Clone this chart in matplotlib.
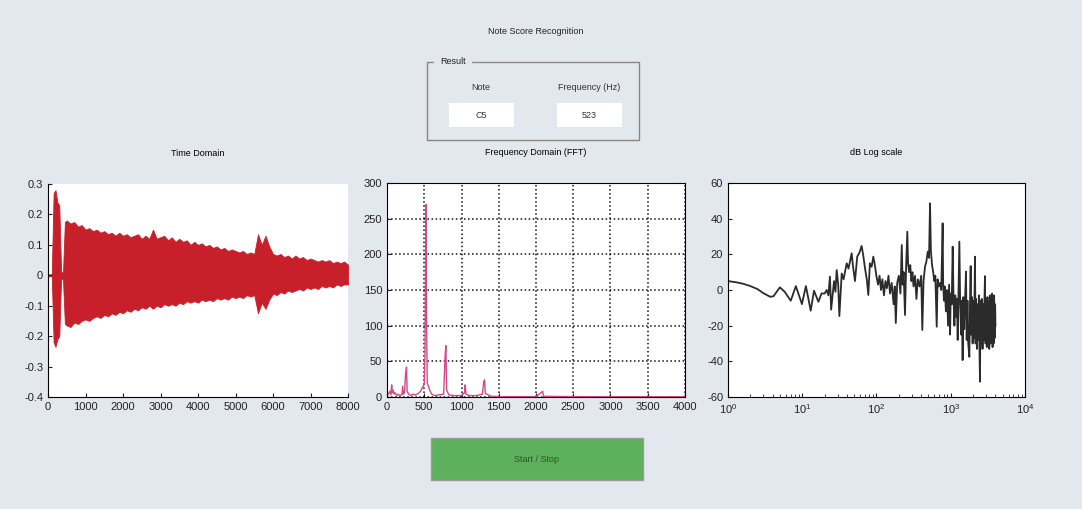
import matplotlib.pyplot as plt
import matplotlib.patches as mpatches
from matplotlib.ticker import FuncFormatter
import numpy as np

plt.rcParams['axes.unicode_minus'] = False
plt.rcParams['font.family'] = ['Liberation Sans', 'DejaVu Sans']

note_name = "C5"
note_freq = 523

# time domain: sample index with upper / lower envelope of the waveform
t = [0, 100, 150, 200, 250, 300, 350, 400, 450, 500, 600, 700, 800, 900,
     1000, 1100, 1200, 1300, 1400, 1500, 1600, 1700, 1800, 1900, 2000, 2100,
     2200, 2300, 2400, 2500, 2600, 2700, 2800, 2900, 3000, 3100, 3200, 3300,
     3400, 3500, 3600, 3700, 3800, 3900, 4000, 4100, 4200, 4300, 4400, 4500,
     4600, 4700, 4800, 4900, 5000, 5100, 5200, 5300, 5400, 5500, 5600, 5700,
     5800, 5900, 6000, 6100, 6200, 6300, 6400, 6500, 6600, 6700, 6800, 6900,
     7000, 7100, 7200, 7300, 7400, 7500, 7600, 7700, 7800, 7900, 8000]
upper = [0.003, 0.003, 0.27, 0.28, 0.24, 0.23, 0.01, 0.01, 0.175, 0.18, 0.17,
         0.175, 0.16, 0.165, 0.15, 0.155, 0.145, 0.15, 0.14, 0.145, 0.135,
         0.14, 0.13, 0.14, 0.13, 0.135, 0.125, 0.13, 0.135, 0.12, 0.13, 0.12,
         0.15, 0.12, 0.125, 0.13, 0.115, 0.125, 0.11, 0.12, 0.11, 0.115, 0.1,
         0.11, 0.1, 0.105, 0.095, 0.1, 0.09, 0.095, 0.085, 0.09, 0.08, 0.085,
         0.08, 0.075, 0.08, 0.07, 0.075, 0.07, 0.135, 0.1, 0.13, 0.095, 0.07,
         0.065, 0.07, 0.06, 0.065, 0.055, 0.065, 0.055, 0.06, 0.05, 0.055,
         0.05, 0.045, 0.05, 0.045, 0.05, 0.04, 0.045, 0.04, 0.045, 0.035]
lower = [-0.003, -0.003, -0.22, -0.235, -0.21, -0.2, -0.01, -0.015, -0.16,
         -0.165, -0.17, -0.155, -0.16, -0.15, -0.145, -0.15, -0.14, -0.135,
         -0.14, -0.13, -0.135, -0.125, -0.13, -0.12, -0.125, -0.115, -0.12,
         -0.11, -0.115, -0.105, -0.11, -0.1, -0.11, -0.1, -0.105, -0.095, -0.1,
         -0.095, -0.1, -0.09, -0.095, -0.085, -0.09, -0.085, -0.09, -0.08,
         -0.085, -0.08, -0.085, -0.075, -0.08, -0.075, -0.08, -0.07, -0.075,
         -0.07, -0.075, -0.065, -0.07, -0.065, -0.125, -0.09, -0.11, -0.08,
         -0.06, -0.065, -0.055, -0.06, -0.05, -0.055, -0.05, -0.045, -0.05,
         -0.04, -0.045, -0.04, -0.045, -0.035, -0.04, -0.035, -0.04, -0.03,
         -0.035, -0.03, -0.03]

# FFT magnitude
fft_f = [0, 20, 40, 50, 63, 70, 80, 95, 110, 130, 150, 170, 200, 210, 220,
         235, 250, 262, 270, 290, 320, 350, 380, 420, 450, 480, 500, 510, 523,
         530, 540, 560, 580, 600, 640, 700, 760, 780, 790, 800, 830, 900, 1000,
         1040, 1050, 1060, 1100, 1200, 1280, 1300, 1310, 1320, 1400, 1500,
         2000, 2090, 2100, 2500, 3000, 4000]
fft_mag = [2, 5, 8, 3, 17, 6, 10, 4, 6, 2, 4, 2, 3, 15, 4, 6, 33, 42, 8, 4, 2,
           4, 3, 5, 8, 14, 18, 60, 270, 120, 20, 14, 8, 4, 2, 3, 4, 57, 72, 10,
           3, 2, 2, 6, 17, 4, 2, 2, 4, 22, 24, 5, 1, 0.5, 0.5, 8, 1, 0.5, 0.3,
           0.2]

# dB spectrum on log frequency axis
db_f = [1, 1.3, 1.6, 2.0, 2.5, 3.0, 3.7, 4.1, 5.0, 5.8, 7.0, 8.2, 9.9, 11.2,
        13.0, 14.4, 16.5, 18.2, 20, 21.3, 22.5, 23.6, 24.5, 26.8, 28, 29.1,
        30.5, 31.6, 34, 36, 39.7, 42, 46.3, 48, 51.3, 55, 59, 63, 66, 70, 74,
        77.6, 81.5, 86, 90.6, 95, 100, 105, 110, 115, 120, 126, 132, 138, 145,
        152, 160, 170, 176, 182, 190, 200, 210, 219, 225, 232, 242, 250, 260,
        266, 275, 285, 295, 305, 315, 330, 345, 360, 380, 400, 414, 430, 450,
        470, 490, 510, 526, 540, 560, 580, 600, 620, 647, 665, 690, 720, 745,
        778, 790, 810, 830, 860, 890, 920, 950, 979, 1000, 1030, 1062, 1090,
        1120, 1150, 1180, 1210, 1240, 1270, 1306, 1340, 1380, 1410, 1445, 1480,
        1520, 1560, 1604, 1640, 1680, 1720, 1780, 1820, 1855, 1890, 1930, 1970,
        2010, 2060, 2120, 2160, 2200, 2250, 2300, 2350, 2400, 2440, 2476, 2520,
        2570, 2620, 2680, 2740, 2800, 2850, 2890, 2940, 3000, 3060, 3120, 3180,
        3240, 3300, 3360, 3420, 3480, 3540, 3600, 3660, 3720, 3780, 3840, 3900,
        3960, 4000]
db_val = [5, 4.3, 3.5, 2.2, 0.5, -1.8, -3.8, -3.5, 1.5, -1, -6, 2.2, -7.9, 2.2,
          -11.6, -0.4, -6.6, -1.9, -2, 0, -3, 7.5, -11, 5, -1, 11.2, 3, -14.6,
          9.3, 6, 15, 12, 20.6, 14, 5, 18.7, 21, 24.7, 20, 12.2, 6, -2.8, 15,
          13, 18.7, 14, 7.5, 3, 8, 0, 6, -3, 5, 1, 8, -2, 4, -8, 2, -18.5, 4, 8,
          -2, 25.2, 3, 10, -14, 12, 32.7, 15, 10, 14, 5, 10, 2, 8, -5, 6, 2, 8,
          -22.4, 5, 13, 16, 21.5, 18, 48.6, 22, 14, 10, 5, 8, -20.6, 6, 2, 4, 0,
          37.4, 4, -6, 2, -12, 0, -20, 3, -25, -2, -8, 24.3, -5, -20, -3, -15,
          -5, -28, -4, 27.1, -8, -25, -6, -39.3, -4, -22, -5, 10.3, -28, -6,
          -30, -37.5, -5, 13.4, -25, -4, -30, -6, -27, 18.7, -30, -5, -33, -8,
          -28, -3, -35, -51.4, -6, -30, -5, -33, -8, -28, -4, 7.8, -30, -6, -32,
          -4, -29, -7, -33, -3, -30, -6, -28, -2, -32, -5, -30, -3, -27, -8,
          -20]

W, H = 1082, 509
bg = '#e3e7ee'
fig = plt.figure(figsize=(W / 100, H / 100), dpi=100, facecolor=bg)


def px_axes(x0, y0, x1, y1):
    return fig.add_axes([x0 / W, 1 - y1 / H, (x1 - x0) / W, (y1 - y0) / H])


def fig_xy(x, y):
    return x / W, 1 - y / H


fmt_g = FuncFormatter(lambda v, p: '%g' % (round(v, 6) + 0.0))
tick_kw = dict(direction='in', labelsize=8, length=3, colors='#222222')

# time domain
ax1 = px_axes(48, 184, 348, 397)
ax1.fill_between(t, lower, upper, color='#c8202a', linewidth=0.6,
                 edgecolor='#c8202a')
ax1.set_xlim(0, 8000)
ax1.set_ylim(-0.4, 0.3)
ax1.set_xticks(np.arange(0, 8001, 1000))
ax1.set_yticks(np.arange(-0.4, 0.31, 0.1))
ax1.yaxis.set_major_formatter(fmt_g)
ax1.tick_params(**tick_kw)
ax1.spines[['top', 'right']].set_visible(False)
ax1.set_title('Time Domain', fontsize=6.5, pad=20)

# frequency domain
ax2 = px_axes(387, 183, 685, 397)
ax2.plot(fft_f, fft_mag, color='#d4488a', linewidth=1)
ax2.set_xlim(0, 4000)
ax2.set_ylim(0, 300)
ax2.set_xticks(np.arange(0, 4001, 500))
ax2.set_yticks(np.arange(0, 301, 50))
ax2.grid(True, color='#111111', linestyle=':', linewidth=1.1)
ax2.tick_params(**tick_kw)
ax2.set_title('Frequency Domain (FFT)', fontsize=6.5, pad=20)

# dB log scale
ax3 = px_axes(728, 183, 1025, 397)
ax3.semilogx(db_f, db_val, color='#2b2b2b', linewidth=1.3)
ax3.set_xlim(1, 1e4)
ax3.set_ylim(-60, 60)
ax3.set_yticks(np.arange(-60, 61, 20))
ax3.yaxis.set_major_formatter(fmt_g)
ax3.tick_params(which='both', direction='in', labelsize=8, colors='#222222')
ax3.tick_params(which='major', length=3)
ax3.tick_params(which='minor', length=2)
ax3.set_title('dB Log scale', fontsize=6.5, pad=20)

for ax in (ax1, ax2, ax3):
    ax.set_facecolor('white')

# header and result panel
fig.text(*fig_xy(536, 32), 'Note Score Recognition', fontsize=6.5,
         ha='center', va='center', color='#222222')
panel = mpatches.Rectangle(fig_xy(427, 140), 212 / W, 78 / H,
                           transform=fig.transFigure, fill=False,
                           edgecolor='#888888', linewidth=1)
fig.add_artist(panel)
fig.text(*fig_xy(440, 62), 'Result', fontsize=6.5, ha='left', va='center',
         color='#222222', backgroundcolor=bg)
for cx, lab, val in [(481, 'Note', note_name),
                     (589, 'Frequency (Hz)', str(note_freq))]:
    fig.text(*fig_xy(cx, 87), lab, fontsize=6.5, ha='center', va='center',
             color='#333333')
    box = mpatches.Rectangle(fig_xy(cx - 32, 127), 65 / W, 24 / H,
                             transform=fig.transFigure, facecolor='white',
                             edgecolor='none')
    fig.add_artist(box)
    fig.text(*fig_xy(cx, 115), val, fontsize=6.5, ha='center', va='center',
             color='#333333')

# start / stop button
btn = mpatches.Rectangle(fig_xy(431, 480), 212 / W, 42 / H,
                         transform=fig.transFigure, facecolor='#5db15d',
                         edgecolor='#9a9a9a', linewidth=1)
fig.add_artist(btn)
fig.text(*fig_xy(537, 459), 'Start / Stop', fontsize=6.5, ha='center',
         va='center', color='#2f4f2f')

fig.savefig('out.png', dpi=100, facecolor=bg)
